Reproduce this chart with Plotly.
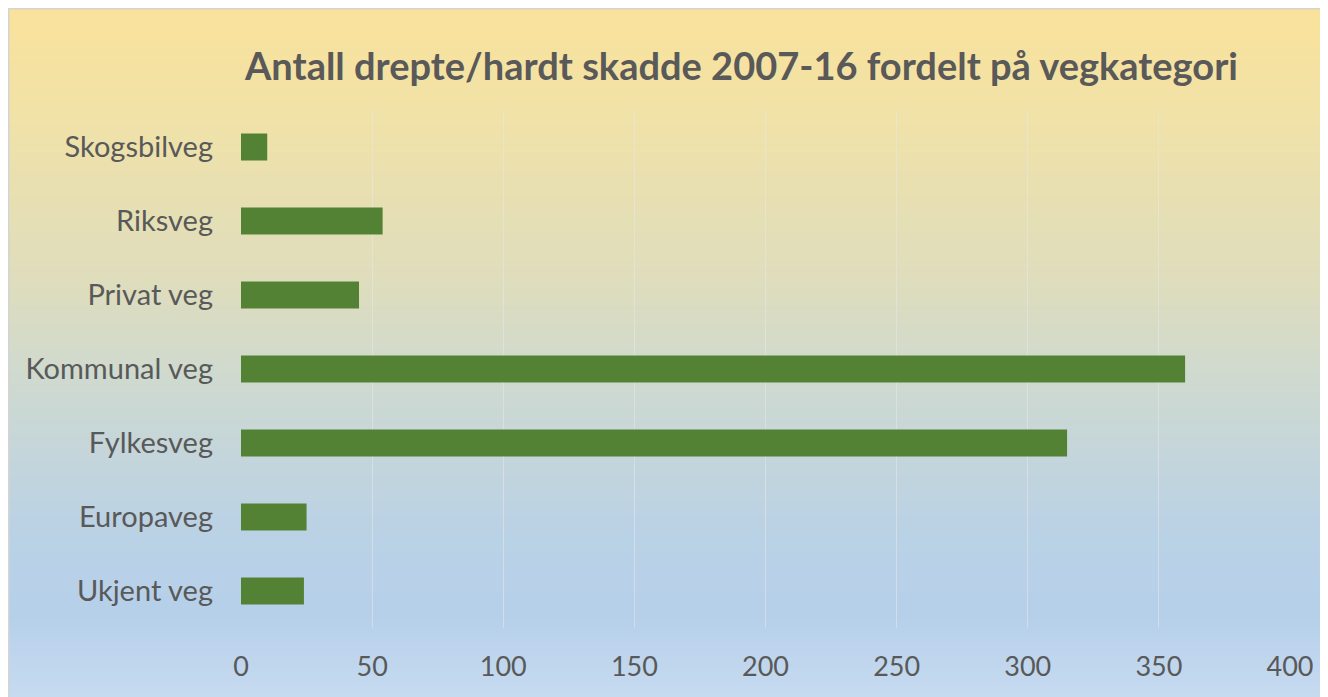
import plotly.graph_objects as go

categories = ["Ukjent veg", "Europaveg", "Fylkesveg", "Kommunal veg",
              "Privat veg", "Riksveg", "Skogsbilveg"]
values = [24, 25, 315, 360, 45, 54, 10]
x_ticks = [0, 50, 100, 150, 200, 250, 300, 350, 400]
title_text = "Antall drepte/hardt skadde 2007-16 fordelt på vegkategori"

# page has an 8px body margin, so the figure is sized to fill the rest
W, H = 1320, 689
L, R, T, B = 233, 38, 102, 69
pw, ph = W - L - R, H - T - B

# background gradient (top yellow -> blue), drawn as thin strips in paper coords
stops = [(0.0, (250, 226, 155)), (0.15, (241, 226, 167)), (0.40, (222, 221, 189)),
         (0.55, (205, 217, 209)), (0.75, (187, 210, 229)), (0.88, (182, 208, 234)),
         (1.0, (199, 219, 240))]

def col_at(t):
    for (t0, c0), (t1, c1) in zip(stops[:-1], stops[1:]):
        if t0 <= t <= t1:
            f = (t - t0) / (t1 - t0) if t1 > t0 else 0
            return tuple(round(a + (b - a) * f) for a, b in zip(c0, c1))
    return stops[-1][1]

def px2x(px):
    return (px - L) / pw

def py2y(py):
    return 1 - (py - T) / ph

shapes = []
n = 230
step = (H + 2) / n
for i in range(n):
    y0p = i * step
    y1p = (i + 1) * step + 0.8
    c = col_at((i + 0.5) / n)
    shapes.append(dict(type="rect", xref="paper", yref="paper", layer="below",
                       x0=px2x(0), x1=px2x(W + 2), y0=py2y(y1p), y1=py2y(y0p),
                       line=dict(width=0), fillcolor="rgb(%d,%d,%d)" % c))
# frame border (left & top)
shapes.append(dict(type="line", xref="paper", yref="paper", layer="below",
                   x0=px2x(0.75), x1=px2x(0.75), y0=py2y(0), y1=py2y(H + 2),
                   line=dict(color="#d4d4d4", width=1.5)))
shapes.append(dict(type="line", xref="paper", yref="paper", layer="below",
                   x0=px2x(0), x1=px2x(W + 2), y0=py2y(0.75), y1=py2y(0.75),
                   line=dict(color="#d4d4d4", width=1.5)))

fig = go.Figure(go.Bar(x=values, y=categories, orientation="h",
                       marker=dict(color="#548235", line=dict(width=0))))

fig.update_layout(
    width=W, height=H,
    margin=dict(l=L, r=R, t=T, b=B, pad=0),
    paper_bgcolor="white", plot_bgcolor="rgba(0,0,0,0)",
    bargap=0.635,
    font=dict(family="Lato, Carlito, sans-serif", color="#595959"),
    title=dict(text=title_text, x=733.5 / W, xanchor="center", xref="container",
               y=1 - 59 / H, yanchor="middle", yref="container",
               font=dict(size=38, color="#595959", family="Lato, sans-serif", weight="bold")),
    shapes=shapes,
    showlegend=False,
)
fig.update_xaxes(range=[0, 400], tickvals=x_ticks, showgrid=True,
                 gridcolor="rgba(232,232,232,0.55)", gridwidth=1.2,
                 zeroline=False, showline=False, ticks="",
                 tickfont=dict(size=27, color="#595959"), ticklabelstandoff=20)
fig.update_yaxes(type="category", categoryorder="array", categoryarray=categories,
                 showgrid=False, zeroline=False, showline=False, ticks="",
                 tickfont=dict(size=29, color="#595959"), ticklabelstandoff=27)

fig.write_html("out.html")
